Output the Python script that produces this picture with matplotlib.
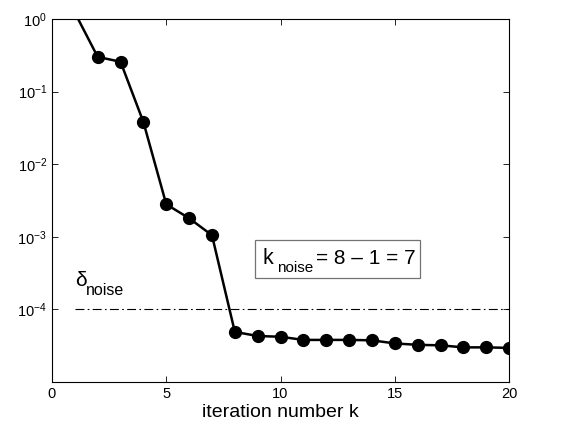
import numpy as np
import matplotlib
matplotlib.use("Agg")
import matplotlib.pyplot as plt
from matplotlib.patches import Rectangle
from matplotlib.ticker import NullLocator

plt.rcParams["font.family"] = ["Liberation Sans", "DejaVu Sans"]
plt.rcParams["mathtext.fontset"] = "custom"
plt.rcParams["mathtext.rm"] = "Liberation Sans"
plt.rcParams["mathtext.it"] = "Liberation Sans:italic"

k = np.arange(1, 21)
residual = [1.22, 0.30, 0.257, 0.038, 0.0028, 0.0018, 0.00105, 4.9e-5, 4.3e-5, 4.2e-5,
            3.8e-5, 3.8e-5, 3.8e-5, 3.75e-5, 3.4e-5, 3.25e-5, 3.2e-5, 3.0e-5, 3.0e-5, 2.95e-5]
delta_noise = 1e-4
yticks = [1e-4, 1e-3, 1e-2, 1e-1, 1e0]

W, H = 575, 430
fig = plt.figure(figsize=(W / 100, H / 100), dpi=100)
ax = fig.add_axes([0.0904, 0.1116, 0.795, 0.8444])
ax.plot([1, 20], [delta_noise, delta_noise], color="k", lw=0.8, ls=(0, (8, 3, 1.5, 3)))
ax.plot(k, residual, "k-", lw=1.8, marker="o", ms=8.5)
ax.set_yscale("log")
ax.set_xlim(0, 20)
ax.set_ylim(1e-5, 1)
ax.set_xticks([0, 5, 10, 15, 20])
ax.set_yticks(yticks)
ax.yaxis.set_minor_locator(NullLocator())
ax.tick_params(direction="in", top=True, right=True, length=4, width=0.6, labelsize=10.5)
for s in ax.spines.values():
    s.set_linewidth(0.8)
ax.set_xlabel("iteration number k", fontsize=14, labelpad=2)


def fig_text(x, y, s, size):
    # x, y in pixels from the top-left corner, y is the baseline
    fig.text(x / W, 1 - y / H, s, fontsize=size, ha="left", va="baseline")


# delta_noise label
fig_text(75, 286, "\u03b4", 15)
fig_text(86, 295, "noise", 11.5)

# k_noise box
fig.patches.append(Rectangle((255 / W, 1 - 278 / H), 165 / W, 38 / H, transform=fig.transFigure,
                             fill=True, fc="white", ec="0.45", lw=0.9, zorder=3))
fig_text(263, 264, "k", 15.5)
fig_text(277, 272, "noise", 11)
fig_text(316, 264, "= 8 \u2013 1 = 7", 15)

fig.savefig("out.png", dpi=100)
